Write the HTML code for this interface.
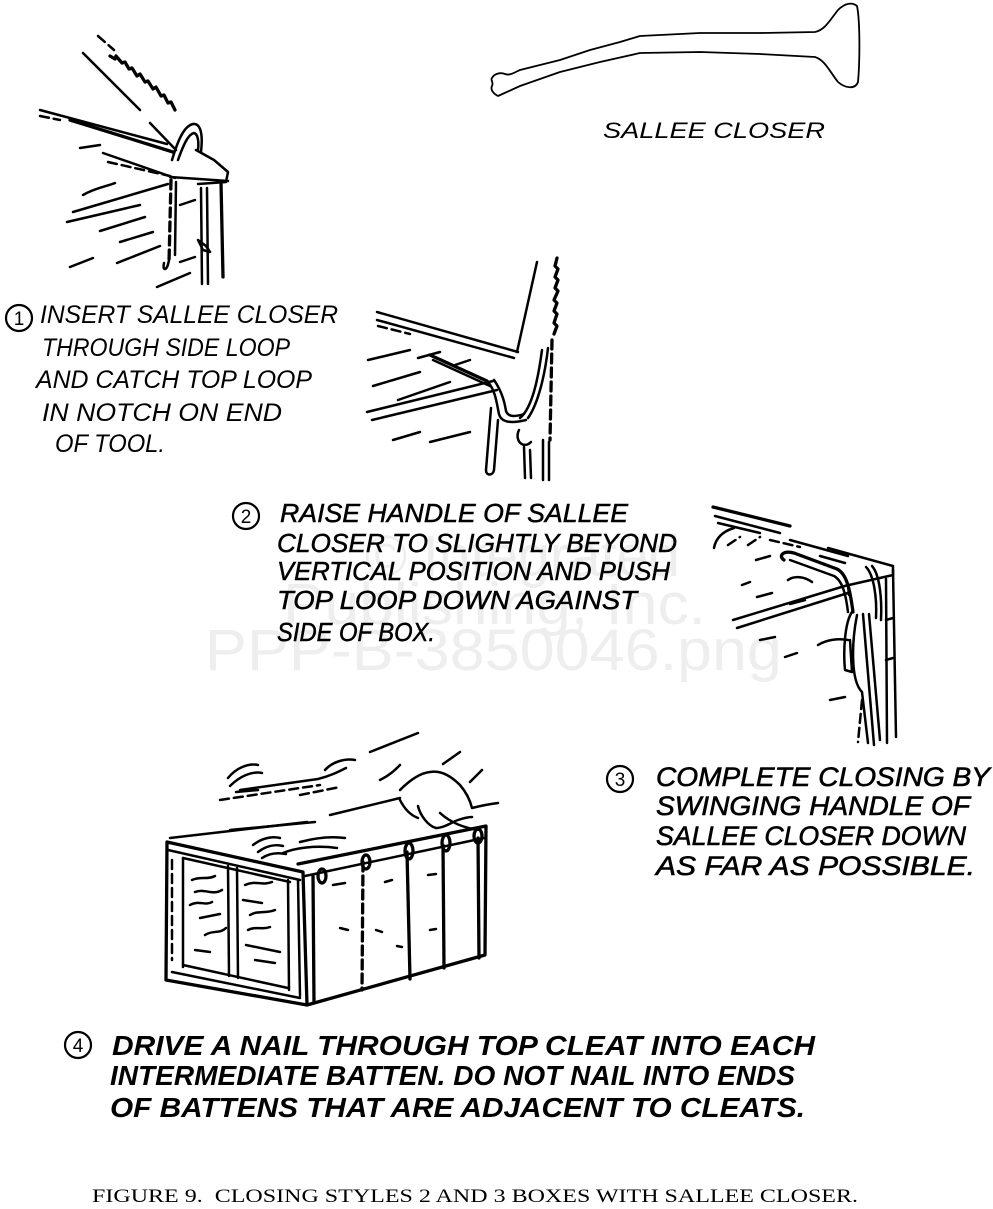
<!DOCTYPE html>
<html><head><meta charset="utf-8"><style>
html,body{margin:0;padding:0;background:#fff;}
svg{display:block}
.l{fill:none;stroke:#000;stroke-width:2.5;stroke-linecap:round;stroke-linejoin:round}
.t{stroke-width:3.3}
.d{stroke-dasharray:9 5}
.h{font-family:"Liberation Sans",sans-serif;font-style:italic;fill:#000}
.c{fill:none;stroke:#000;stroke-width:2.2}
.n{font-family:"Liberation Sans",sans-serif;font-size:19px;fill:#000;text-anchor:middle}
</style></head><body>
<svg width="993" height="1209" viewBox="0 0 993 1209" xmlns="http://www.w3.org/2000/svg">
<rect width="993" height="1209" fill="#fff"/>

<!-- watermark -->
<g font-family="Liberation Sans, sans-serif" fill="#eeeeee" font-size="58">
<text x="365" y="576" textLength="315" lengthAdjust="spacingAndGlyphs">© Integrated</text>
<text x="283" y="624" textLength="423" lengthAdjust="spacingAndGlyphs">Publishing, Inc.</text>
<text x="205" y="670" textLength="577" lengthAdjust="spacingAndGlyphs">PPP-B-3850046.png</text>
</g>

<!-- Sallee closer tool -->
<path class="l" style="stroke-width:1.8" d="M492,78 C494,74 500,72 505,74 C510,76 515,72 520,70 L560,60 L590,50 L620,42 L640,36 L700,33 L760,33 L815,32 C825,30 830,20 838,10 C845,3 852,2 857,6 C860,20 860,60 858,82 C855,90 845,88 838,82 C830,72 825,60 815,57 L760,54 L700,52 L640,53 L600,62 L560,72 L520,86 L498,96 C494,94 490,90 492,86 C494,82 490,80 492,78 Z"/>
<text class="h" x="603" y="138" font-size="22" textLength="222" lengthAdjust="spacingAndGlyphs">SALLEE CLOSER</text>

<!-- Drawing 1 -->
<path class="l d" d="M98,36 L114,50"/>
<path class="l t" d="M110,56 l5,3 l1,-3 l6,7 l3,-1 l4,7 l3,-1 l5,8 l3,-2 l5,8 l3,-1 l5,8 l3,-2 l5,9 l3,-1 l4,8 l3,-1 l4,8"/>
<path class="l" d="M83,53 L140,110 M150,123 L176,150"/>
<path class="l" d="M40,110 L167,144"/>
<path class="l t" d="M70,120 L173,152"/>
<path class="l d" d="M40,116 L60,120"/>
<path class="l" d="M103,153 L175,178"/>
<path class="l d" d="M108,162 L170,176"/>
<path class="l" d="M172,160 C178,140 184,126 193,124 C201,123 203,135 201,152"/>
<path class="l" d="M178,160 C183,146 188,134 194,133 C198,134 199,142 198,150"/>
<path class="l" d="M196,150 L214,160 L228,172 L226,182 L198,184"/>
<path class="l" d="M170,177 L228,181"/>
<path class="l t d" d="M171,180 L169,262"/>
<path class="l" d="M169,260 C167,272 162,271 164,263"/>
<path class="l" d="M176,182 L175,255"/>
<path class="l" d="M201,188 L202,284"/>
<path class="l" d="M207,188 L208,284"/>
<path class="l t" d="M221,182 L223,277"/>
<path class="l" d="M198,240 L206,246 L210,252 L203,250 Z"/>
<path class="l" d="M83,195 C95,188 108,186 115,183"/>
<path class="l" d="M73,212 L168,184"/>
<path class="l" d="M67,222 L140,205"/>
<path class="l" d="M100,231 L145,217"/>
<path class="l" d="M120,242 L153,232"/>
<path class="l" d="M70,267 L93,258"/>
<path class="l" d="M117,263 L160,246"/>
<path class="l" d="M157,287 L190,273"/>
<path class="l" d="M80,148 L100,145"/>
<path class="l" d="M180,205 L195,200 M180,262 L195,257"/>

<!-- Text 1 -->
<circle class="c" cx="19" cy="318" r="13"/>
<text class="n" x="19" y="325">1</text>
<g class="h" font-size="25">
<text x="40" y="323" textLength="298" lengthAdjust="spacingAndGlyphs">INSERT SALLEE CLOSER</text>
<text x="42" y="356" textLength="248" lengthAdjust="spacingAndGlyphs">THROUGH SIDE LOOP</text>
<text x="36" y="388" textLength="276" lengthAdjust="spacingAndGlyphs">AND CATCH TOP LOOP</text>
<text x="42" y="421" textLength="240" lengthAdjust="spacingAndGlyphs">IN NOTCH ON END</text>
<text x="55" y="452" textLength="110" lengthAdjust="spacingAndGlyphs">OF TOOL.</text>
</g>

<!-- Drawing 2 -->
<path class="l" d="M537,262 L517,352"/>
<path class="l t" d="M557,258 l-2,8 l3,3 l-3,8 l3,3 l-3,8 l3,3 l-4,9 l3,3 l-3,8 l3,3 l-3,9 l3,3 l-3,8"/>
<path class="l t d" d="M552,340 L550,440"/>
<path class="l" d="M543,440 L543,480 M549,442 L549,480 M524,447 L525,478 M530,450 L531,478"/>
<path class="l" d="M377,312 L518,352 M377,320 L514,358"/>
<path class="l d" d="M378,326 L410,334"/>
<path class="l t" d="M430,355 L487,381"/>
<path class="l" d="M433,360 L490,386"/>
<path class="l" d="M367,412 L493,381 M372,420 L497,390"/>
<path class="l" d="M487,381 C496,390 497,406 499,414 C501,422 510,424 526,420"/>
<path class="l" d="M494,380 C503,393 505,405 506,411 C508,417 515,417 524,414"/>
<path class="l" d="M520,418 C532,408 538,380 542,350"/>
<path class="l" d="M528,418 C538,404 545,375 548,348"/>
<path class="l" d="M491,408 L486,470 C486,476 493,476 494,470 L498,420"/>
<path class="l" d="M519,430 C514,440 523,450 531,442"/>
<path class="l" d="M368,360 L410,350 M373,386 L420,372 M398,400 L450,382 M393,440 L420,432 M430,442 L470,432 M418,358 L440,352 M455,365 L470,360"/>

<!-- Text 2 -->
<circle class="c" cx="246" cy="516" r="13"/>
<text class="n" x="246" y="523">2</text>
<g class="h" font-size="26" stroke="#000" stroke-width="0.5">
<text x="280" y="522" textLength="348" lengthAdjust="spacingAndGlyphs">RAISE HANDLE OF SALLEE</text>
<text x="277" y="552" textLength="400" lengthAdjust="spacingAndGlyphs">CLOSER TO SLIGHTLY BEYOND</text>
<text x="277" y="580" textLength="393" lengthAdjust="spacingAndGlyphs">VERTICAL POSITION AND PUSH</text>
<text x="277" y="609" textLength="360" lengthAdjust="spacingAndGlyphs">TOP LOOP DOWN AGAINST</text>
<text x="277" y="641" textLength="158" lengthAdjust="spacingAndGlyphs">SIDE OF BOX.</text>
</g>

<!-- Drawing 3 -->
<path class="l t" d="M713,507 L790,526"/>
<path class="l" d="M715,516 L780,533 M718,523 L760,533"/>
<path class="l" d="M714,548 C716,537 724,531 734,528"/>
<path class="l d" d="M728,545 L740,537 M748,545 L760,537 M770,540 L800,547"/>
<path class="l" d="M790,540 L848,556"/>
<path class="l" d="M828,548 L893,566 L893,575 L849,585"/>
<path class="l" d="M820,556 L845,563"/>
<path class="l" d="M893,570 L896,737 M886,579 L887,743"/>
<path class="l" d="M733,620 L848,585 M737,628 L848,593"/>
<path class="l" d="M848,585 L849,595"/>
<path class="l t" d="M784,560 C778,556 783,550 794,553 L837,569 C847,574 850,590 853,612"/>
<path class="l" d="M790,560 L834,576 C843,581 846,596 848,612"/>
<path class="l" d="M866,567 C874,575 877,598 876,618 M872,566 C880,575 882,600 881,620"/>
<path class="l" d="M852,612 C845,622 843,650 845,670 L852,672 L850,640"/>
<path class="l" d="M857,615 C852,640 850,680 862,692 L868,743"/>
<path class="l" d="M863,614 L874,745 M869,614 L880,740"/>
<path class="l" d="M788,580 C795,575 805,577 812,582"/>
<path class="l" d="M757,597 L772,593 M760,640 L775,637 M785,657 L797,653 M818,645 C826,640 838,638 848,640 M830,700 L845,697 M756,560 L770,556 M742,585 L750,582 M790,604 L805,600 M886,620 L893,618 M886,660 L893,658"/>
<path class="l d" d="M862,700 L858,742"/>

<!-- Text 3 -->
<circle class="c" cx="620" cy="779" r="13"/>
<text class="n" x="620" y="786">3</text>
<g class="h" font-size="27" stroke="#000" stroke-width="0.6">
<text x="656" y="786" textLength="334" lengthAdjust="spacingAndGlyphs">COMPLETE CLOSING BY</text>
<text x="656" y="815" textLength="314" lengthAdjust="spacingAndGlyphs">SWINGING HANDLE OF</text>
<text x="656" y="845" textLength="310" lengthAdjust="spacingAndGlyphs">SALLEE CLOSER DOWN</text>
<text x="656" y="875" textLength="319" lengthAdjust="spacingAndGlyphs">AS FAR AS POSSIBLE.</text>
</g>

<!-- Drawing 4: box -->
<path class="l t" d="M167,842 L303,872 L307,1005 L166,980 Z"/>
<path class="l" d="M168,850 L300,880 M183,858 L290,882"/>
<path class="l" d="M183,858 L183,967 M228,866 L229,976 M237,868 L238,978 M288,880 L289,990 M298,880 L300,996"/>
<path class="l" d="M172,972 L300,998 M183,965 L288,988"/>
<path class="l" d="M170,838 L307,822"/>
<path class="l t" d="M298,864 L486,826 L485,955 L307,1005"/>
<path class="l" d="M305,876 L484,838"/>
<path class="l t" d="M313,876 L314,1003"/>
<path class="l t d" d="M363,862 L362,990"/>
<path class="l t" d="M407,852 L410,979 M443,845 L444,968 M478,838 L479,958"/>
<ellipse class="l t" cx="322" cy="876" rx="4" ry="7"/>
<ellipse class="l t" cx="366" cy="862" rx="4" ry="7"/>
<ellipse class="l t" cx="409" cy="851" rx="4" ry="8"/>
<ellipse class="l t" cx="446" cy="843" rx="4" ry="8"/>
<ellipse class="l t" cx="478" cy="836" rx="4" ry="7"/>
<path class="l" d="M192,880 C200,876 208,880 215,876 M195,892 C205,888 212,896 222,890 M190,905 C198,900 206,906 212,902 M200,918 L220,914 M205,935 C212,930 220,934 226,928 M195,950 L210,952 M245,885 C255,880 262,886 272,882 M243,900 L262,903 M250,915 C258,910 266,914 275,910 M248,930 C255,926 262,930 270,927 M246,945 L280,952 M255,960 L275,963"/>
<path class="l d" d="M172,860 L172,960"/>
<path class="l" d="M333,885 L345,883 M340,928 L348,930 M376,930 L382,932 M397,946 L402,947 M428,875 L436,874 M385,882 L392,880 M430,930 L436,929"/>
<!-- arm & hand -->
<path class="l" d="M228,778 C236,768 248,763 258,765 M230,786 C240,776 252,771 262,773 M236,792 L258,790"/>
<path class="l" d="M240,790 L318,779 C330,776 338,772 346,768"/>
<path class="l" d="M325,770 C332,762 345,758 355,760"/>
<path class="l" d="M370,752 L418,733"/>
<path class="l d" d="M220,800 L320,785"/>
<path class="l d" d="M300,795 L340,787"/>
<path class="l" d="M330,815 L400,798"/>
<path class="l" d="M230,830 L315,822"/>
<path class="l" d="M400,790 C410,780 420,773 430,772 C440,770 450,775 460,785 C466,792 470,800 472,808 C480,806 490,804 498,803"/>
<path class="l" d="M443,764 L460,752 M470,782 L482,770"/>
<path class="l" d="M418,806 C420,815 428,826 436,828 C444,828 452,822 458,820 C464,818 468,817 472,817"/>
<path class="l" d="M400,800 C404,808 410,815 418,818"/>
<path class="l" d="M380,780 C390,775 395,770 400,765"/>
<path class="l" d="M253,845 C262,838 272,836 280,838 M258,852 C266,846 275,844 283,846 M262,858 C268,854 276,852 286,854"/>
<path class="l" d="M283,853 C295,848 315,845 337,848"/>
<path class="l" d="M300,842 C315,838 330,836 345,838"/>
<path class="l" d="M440,813 C450,822 462,828 480,830"/>

<!-- Text 4 -->
<circle class="c" cx="78" cy="1045" r="13"/>
<text class="n" x="78" y="1052">4</text>
<g class="h" font-size="28" font-weight="bold">
<text x="112" y="1055" textLength="703" lengthAdjust="spacingAndGlyphs">DRIVE A NAIL THROUGH TOP CLEAT INTO EACH</text>
<text x="110" y="1085" textLength="685" lengthAdjust="spacingAndGlyphs">INTERMEDIATE BATTEN. DO NOT NAIL INTO ENDS</text>
<text x="110" y="1117" textLength="695" lengthAdjust="spacingAndGlyphs">OF BATTENS THAT ARE ADJACENT TO CLEATS.</text>
</g>

<!-- Caption -->
<text x="92" y="1202" font-family="Liberation Serif, serif" font-size="19" fill="#000" textLength="766" lengthAdjust="spacingAndGlyphs" xml:space="preserve">FIGURE 9.  CLOSING STYLES 2 AND 3 BOXES WITH SALLEE CLOSER.</text>
</svg>
</body></html>
